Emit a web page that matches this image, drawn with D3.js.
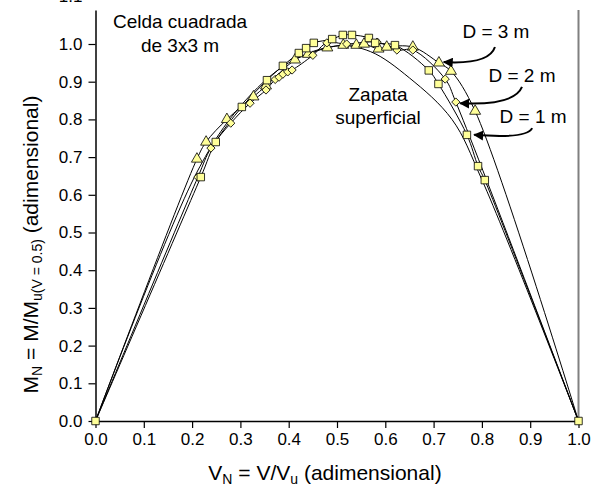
<!DOCTYPE html>
<html><head><meta charset="utf-8">
<script src="https://cdn.jsdelivr.net/npm/d3@7"></script>
<style>
body{margin:0;background:#fff}
svg{display:block}
text{font-family:"Liberation Sans",Arial,Helvetica,sans-serif;fill:#000}
</style>
</head><body>
<svg id="chart" width="599" height="491"></svg>
<script>
// ---- data ----
const xTicks = [0,0.1,0.2,0.3,0.4,0.5,0.6,0.7,0.8,0.9,1.0];
const yTicks = [0,0.1,0.2,0.3,0.4,0.5,0.6,0.7,0.8,0.9,1.0];

// Zapata superficial (line only)
const zapX = [0,0.21,0.30,0.40,0.50,0.569,0.65,0.738,0.80,1.0];
const zapY = [0,0.66,0.835,0.95,0.995,0.98,0.91,0.80,0.64,0];

// D = 1 m (squares)
const d1X = [0,0.218,0.249,0.303,0.355,0.388,0.421,0.436,0.452,0.49,0.512,0.531,0.566,0.579,0.62,0.69,0.71,0.769,0.792,0.806,1.0];
const d1Y = [0,0.647,0.74,0.833,0.904,0.942,0.976,0.989,1.003,1.013,1.024,1.024,1.016,1.003,0.997,0.93,0.894,0.759,0.676,0.639,0];

// D = 2 m (diamonds)
const d2X = [0,0.212,0.239,0.28,0.32,0.353,0.372,0.38,0.388,0.398,0.407,0.45,0.479,0.52,0.583,0.624,0.657,0.724,0.746,1.0];
const d2Y = [0,0.647,0.724,0.79,0.843,0.878,0.906,0.912,0.92,0.926,0.931,0.97,1.003,1.0,1.005,0.984,0.984,0.907,0.846,0];

// D = 3 m (triangles)
const d3X = [0,0.21,0.229,0.272,0.327,0.353,0.413,0.44,0.48,0.513,0.54,0.556,0.586,0.603,0.657,0.711,0.736,0.786,1.0];
const d3Y = [0,0.695,0.74,0.80,0.86,0.889,0.958,0.973,0.99,0.997,0.997,1.0,0.987,0.992,0.992,0.95,0.928,0.822,0];

// annotations (data units)
const labelText = ["D = 3 m","D = 2 m","D = 1 m"];
const labelX = [0.829,0.883,0.906];
const labelY = [1.029,0.912,0.804];
const arrowStart = [[0.827,0.992],[0.883,0.886],[0.904,0.777]];
const arrowCtrl  = [[0.815,0.945],[0.867,0.836],[0.893,0.748]];
const arrowEnd   = [[0.721,0.952],[0.755,0.843],[0.784,0.759]];

// ---- layout ----
const svg = d3.select("#chart");
const x = d3.scaleLinear().domain([0,1]).range([95.5,578.5]);
const y = d3.scaleLinear().domain([0,1.09]).range([421,421-1.09*377]);

// right frame line
svg.append("line").attr("x1",x(1)).attr("x2",x(1)).attr("y1",y(1.09)).attr("y2",y(0))
  .attr("stroke","#808080").attr("stroke-width",2);

// axes
const xa = svg.append("g").attr("transform",`translate(0,${y(0)})`)
  .call(d3.axisBottom(x).tickValues(xTicks).tickFormat(d3.format(".1f")).tickSizeInner(7).tickSizeOuter(0).tickPadding(5));
const ya = svg.append("g").attr("transform",`translate(${x(0)},0)`)
  .call(d3.axisLeft(y).tickValues(yTicks).tickFormat(d3.format(".1f")).tickSizeInner(7).tickSizeOuter(0).tickPadding(6));
[xa,ya].forEach(g=>{
  g.selectAll("path.domain").attr("stroke","#000").attr("stroke-width",1.5);
  g.selectAll(".tick line").attr("stroke","#000").attr("stroke-width",1.2);
  g.selectAll(".tick text").attr("font-size",17).attr("font-family","Liberation Sans, Arial, sans-serif").attr("fill","#000");
});
// partially clipped top label
svg.append("text").attr("x",x(0)-13).attr("y",y(1.1)-9).attr("text-anchor","end")
  .attr("dominant-baseline","middle").attr("font-size",17).text("1.1");

// lines
const lineSmooth = d3.line().x(d=>x(d[0])).y(d=>y(d[1])).curve(d3.curveCatmullRom.alpha(0.5));
const zip = (a,b)=>a.map((v,i)=>[v,b[i]]);
const zap = zip(zapX,zapY), s1 = zip(d1X,d1Y), s2 = zip(d2X,d2Y), s3 = zip(d3X,d3Y);

svg.append("path").attr("d",lineSmooth(zap)).attr("fill","none").attr("stroke","#000").attr("stroke-width",1);
[s3,s2,s1].forEach(s=>{
  svg.append("path").attr("d",lineSmooth(s)).attr("fill","none").attr("stroke","#000").attr("stroke-width",1);
});

// markers
const fillC = "#FFFF99";
function markers(data,type,size,rot){
  svg.append("g").selectAll("path").data(data).join("path")
    .attr("transform",d=>`translate(${x(d[0])},${y(d[1])}) rotate(${rot})`)
    .attr("d",d3.symbol().type(type).size(size)())
    .attr("fill",fillC).attr("stroke","#000").attr("stroke-width",0.8);
}
markers(s3.slice(1,-1),d3.symbolTriangle,52,0);
markers(s2.slice(1,-1),d3.symbolSquare,34,45);
markers(s1,d3.symbolSquare,56,0);

// annotations
svg.append("text").attr("x",x(0.175)).attr("y",28).attr("text-anchor","middle").attr("font-size",19).text("Celda cuadrada");
svg.append("text").attr("x",x(0.175)).attr("y",52).attr("text-anchor","middle").attr("font-size",19).text("de 3x3 m");
svg.append("text").attr("x",x(0.585)).attr("y",101).attr("text-anchor","middle").attr("font-size",19).text("Zapata");
svg.append("text").attr("x",x(0.585)).attr("y",124).attr("text-anchor","middle").attr("font-size",19).text("superficial");

svg.append("defs").append("marker").attr("id","ah").attr("viewBox","0 0 10 10")
  .attr("refX",9).attr("refY",5).attr("markerWidth",5).attr("markerHeight",5).attr("orient","auto")
  .append("path").attr("d","M0,0 L10,5 L0,10 z").attr("fill","#000");

labelText.forEach((t,i)=>{
  svg.append("text").attr("x",x(labelX[i])).attr("y",y(labelY[i])).attr("text-anchor","middle")
    .attr("dominant-baseline","middle").attr("font-size",19).text(t);
  const p = d3.path();
  p.moveTo(x(arrowStart[i][0]),y(arrowStart[i][1]));
  p.quadraticCurveTo(x(arrowCtrl[i][0]),y(arrowCtrl[i][1]),x(arrowEnd[i][0]),y(arrowEnd[i][1]));
  svg.append("path").attr("d",p.toString()).attr("fill","none").attr("stroke","#000").attr("stroke-width",2)
    .attr("marker-end","url(#ah)");
});

// axis titles
const xt = svg.append("text").attr("x",(x(0)+x(1))/2-12).attr("y",480).attr("text-anchor","middle").attr("font-size",21);
xt.append("tspan").text("V");
xt.append("tspan").attr("font-size",14).attr("dy",4).text("N");
xt.append("tspan").attr("dy",-4).text(" = V/V");
xt.append("tspan").attr("font-size",14).attr("dy",4).text("u");
xt.append("tspan").attr("dy",-4).text(" (adimensional)");

const yt = svg.append("text").attr("transform",`translate(38,${(y(0)+y(1))/2+12}) rotate(-90)`)
  .attr("text-anchor","middle").attr("font-size",21);
yt.append("tspan").text("M");
yt.append("tspan").attr("font-size",14).attr("dy",4).text("N");
yt.append("tspan").attr("dy",-4).text(" = M/M");
yt.append("tspan").attr("font-size",14).attr("dy",4).text("u(V = 0.5)");
yt.append("tspan").attr("dy",-4).text(" (adimensional)");
</script>
</body></html>
